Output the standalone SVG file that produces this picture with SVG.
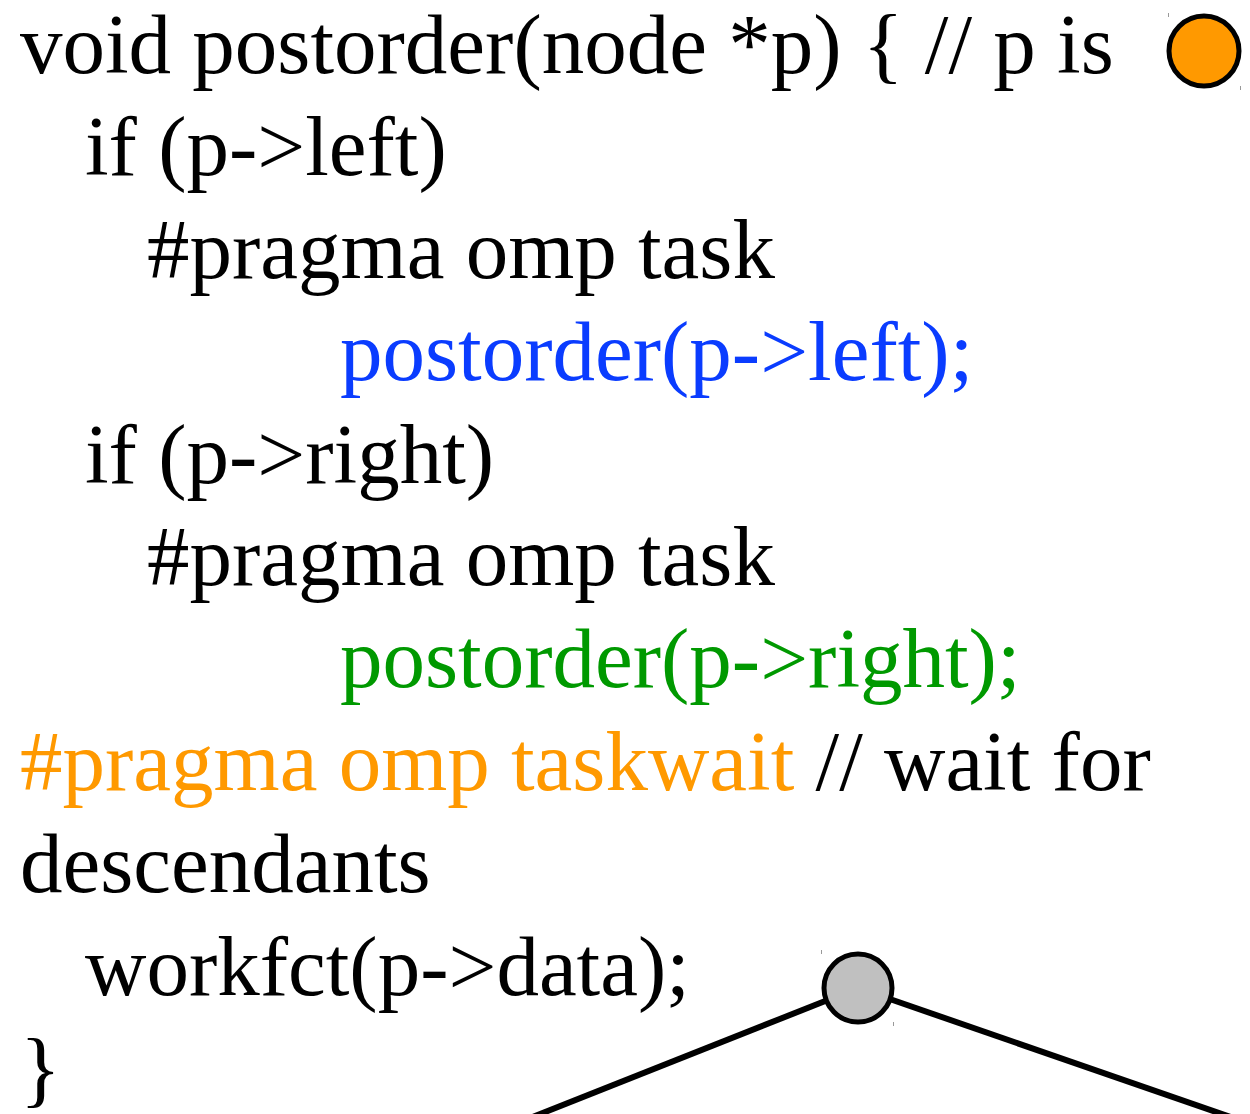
<svg xmlns="http://www.w3.org/2000/svg" width="1250" height="1114" viewBox="0 0 1250 1114">
<style>
text{font-family:"Liberation Serif","Times New Roman",serif;font-size:85px;fill:#000}
.blue{fill:#0a3cff}
.green{fill:#009900}
.orange{fill:#ff9900}
.edge{stroke:#000;stroke-width:6;fill:none}
.tick{stroke:#999;stroke-width:1}
</style>
<rect width="1250" height="1114" fill="#fff"/>
<g id="code">
<text x="20" y="73">void postorder(node *p) { // p is</text>
<text x="85" y="175">if (p-&gt;left)</text>
<text x="147" y="278">#pragma omp task</text>
<text x="340" y="380" class="blue">postorder(p-&gt;left);</text>
<text x="85" y="483">if (p-&gt;right)</text>
<text x="147" y="585">#pragma omp task</text>
<text x="340" y="687" class="green">postorder(p-&gt;right);</text>
<text x="20" y="790"><tspan class="orange">#pragma omp taskwait</tspan> // wait for</text>
<text x="20" y="892">descendants</text>
<text x="85" y="995">workfct(p-&gt;data);</text>
<text x="20" y="1097">}</text>
</g>
<g id="connectors">
<line class="edge" x1="858" y1="988" x2="520" y2="1122"/>
<line class="edge" x1="858" y1="988" x2="1245" y2="1122"/>
</g>
<g id="node-orange">
<circle cx="1204" cy="51" r="35" fill="#ff9900" stroke="#000" stroke-width="5"/>
<line class="tick" x1="1168.5" y1="13" x2="1168.5" y2="17"/>
<line class="tick" x1="1240.5" y1="86" x2="1240.5" y2="90"/>
</g>
<g id="node-gray">
<circle cx="858" cy="988" r="34" fill="#c0c0c0" stroke="#000" stroke-width="5"/>
<line class="tick" x1="821.5" y1="950" x2="821.5" y2="954"/>
<line class="tick" x1="893.5" y1="1022" x2="893.5" y2="1026"/>
</g>
</svg>
